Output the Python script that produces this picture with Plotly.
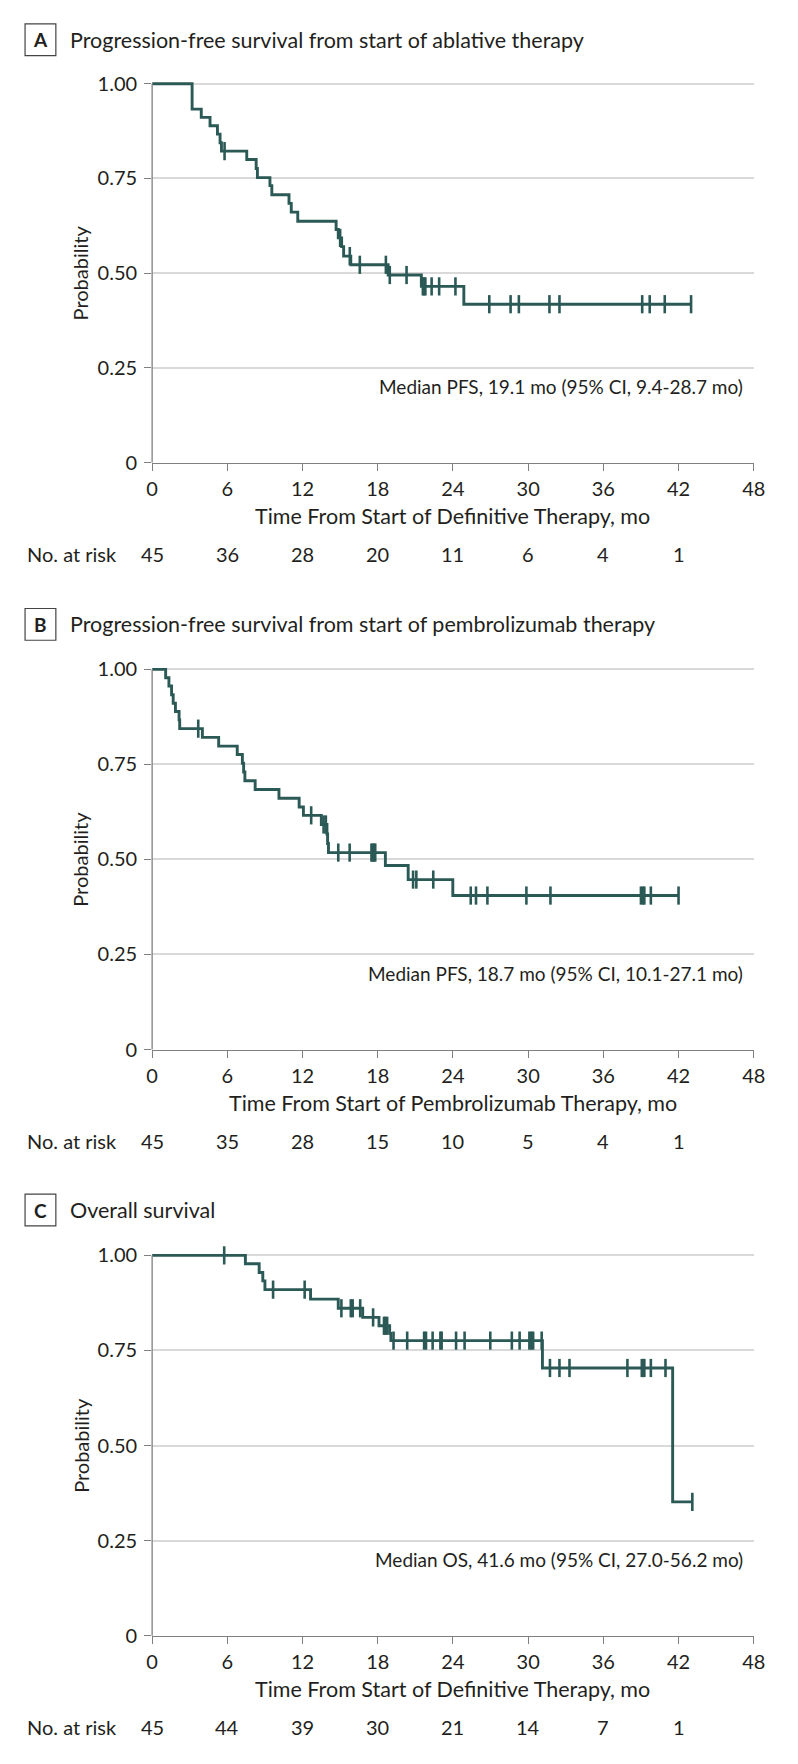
import numpy as np
import plotly.graph_objects as go

# ---------------- data ----------------
months_ticks = [0, 6, 12, 18, 24, 30, 36, 42, 48]
risk_times = [0, 6, 12, 18, 24, 30, 36, 42]

# Panel A: PFS from start of ablative therapy
a_event_t = [3.19, 3.92, 4.62, 5.21, 5.42, 5.53, 7.55, 8.30, 8.40, 9.40, 9.55, 10.92, 11.10, 11.62,
             14.68, 14.85, 15.12, 15.28, 15.85, 18.83, 21.48, 24.87]
a_event_s = [0.933, 0.911, 0.889, 0.867, 0.844, 0.822, 0.800, 0.776, 0.752, 0.731, 0.707, 0.684, 0.661, 0.637,
             0.615, 0.593, 0.570, 0.545, 0.522, 0.495, 0.465, 0.418]
a_censor_t = [5.78, 15.0, 15.77, 16.57, 18.65, 18.96, 20.3, 21.6, 21.7, 21.8, 22.3, 22.9, 24.2,
              26.9, 28.6, 29.26, 31.7, 32.5, 39.1, 39.7, 40.9, 43.0]
a_risk = [45, 36, 28, 20, 11, 6, 4, 1]

# Panel B: PFS from start of pembrolizumab therapy
b_event_t = [1.08, 1.34, 1.55, 1.68, 1.86, 2.15, 2.20, 4.01, 5.31, 6.79, 7.20, 7.30, 7.40, 8.22, 10.12,
             11.73, 12.07, 13.50, 13.95, 14.00, 14.07, 18.61, 20.43, 23.99]
b_event_s = [0.978, 0.956, 0.933, 0.911, 0.889, 0.867, 0.844, 0.821, 0.798, 0.776, 0.753, 0.730, 0.707, 0.684,
             0.661, 0.638, 0.616, 0.592, 0.567, 0.542, 0.518, 0.484, 0.447, 0.405]
b_censor_t = [3.68, 12.69, 13.68, 13.86, 14.85, 15.76, 17.5, 17.6, 17.7, 17.8, 20.82, 21.08, 22.43,
              25.42, 25.84, 26.75, 29.86, 31.78, 39.0, 39.15, 39.27, 39.79, 42.0]
b_risk = [45, 35, 28, 15, 10, 5, 4, 1]

# Panel C: overall survival
c_event_t = [7.44, 8.54, 8.83, 9.00, 12.64, 14.85, 16.80, 18.10, 18.95, 19.05, 31.14, 41.53]
c_event_s = [0.978, 0.955, 0.933, 0.910, 0.885, 0.861, 0.837, 0.815, 0.795, 0.776, 0.704, 0.352]
c_censor_t = [5.75, 9.65, 12.17, 15.1, 15.85, 16.0, 16.6, 17.63, 18.5, 18.6, 18.75, 19.26, 20.35, 21.7,
              21.85, 22.38, 23.0, 23.1, 24.25, 24.93, 26.98, 28.7, 29.32, 30.1, 30.25, 30.4, 31.08,
              31.74, 32.5, 33.3, 37.92, 39.07, 39.17, 39.27, 39.79, 40.96, 43.1]
c_risk = [45, 44, 39, 30, 21, 14, 7, 1]

panels = [
    dict(letter="A", title="Progression-free survival from start of ablative therapy",
         xtitle="Time From Start of Definitive Therapy, mo",
         note="Median PFS, 19.1 mo (95% CI, 9.4-28.7 mo)",
         et=a_event_t, es=a_event_s, ct=a_censor_t, risk=a_risk,
         title_y=38, top_px=82.3, zero_px=464.0),
    dict(letter="B", title="Progression-free survival from start of pembrolizumab therapy",
         xtitle="Time From Start of Pembrolizumab Therapy, mo",
         note="Median PFS, 18.7 mo (95% CI, 10.1-27.1 mo)",
         et=b_event_t, es=b_event_s, ct=b_censor_t, risk=b_risk,
         title_y=627, top_px=672.3, zero_px=1055.3),
    dict(letter="C", title="Overall survival",
         xtitle="Time From Start of Definitive Therapy, mo",
         note="Median OS, 41.6 mo (95% CI, 27.0-56.2 mo)",
         et=c_event_t, es=c_event_s, ct=c_censor_t, risk=c_risk,
         title_y=1217, top_px=1262.7, zero_px=1645.9),
]

# ---------------- style ----------------
W, H = 798, 1764
CURVE = "#2b5956"
AXIS = "#7f7f7f"
GRID = "#d9d9d9"
FONT = "Lato, 'Noto Sans', sans-serif"
TXT = "#231f20"
X0_PX, X48_PX = 149.5, 765.0
YTOP = 1.03


def px(x):
    return x / W


def py(y):
    return 1 - y / H


fig = go.Figure()
shapes = []
annotations = []
layout_axes = {}

for i, p in enumerate(panels):
    n = "" if i == 0 else str(i + 1)
    xa, ya = "x" + n, "y" + n
    unit = p["zero_px"] - p["top_px"]
    top_px = p["top_px"] - (YTOP - 1) * unit
    dom_y = [py(p["zero_px"]), py(top_px)]

    et = np.array(p["et"])
    es = np.array(p["es"])
    ct = np.array(p["ct"])
    tend = max(ct.max(), et.max())
    xs = np.concatenate([[0], et, [tend]])
    ys = np.concatenate([[1.0], es, [es[-1]]])
    fig.add_trace(go.Scatter(x=xs, y=ys, mode="lines", line=dict(color=CURVE, width=2.9, shape="hv"),
                             xaxis=xa, yaxis=ya, showlegend=False, hoverinfo="skip"))
    idx = np.searchsorted(et, ct, side="right")
    cy = np.where(idx == 0, 1.0, es[np.maximum(idx - 1, 0)])
    fig.add_trace(go.Scatter(x=ct, y=cy, mode="markers",
                             marker=dict(symbol="line-ns", size=13, line=dict(color=CURVE, width=2.6)),
                             xaxis=xa, yaxis=ya, showlegend=False, hoverinfo="skip", cliponaxis=False))

    layout_axes["xaxis" + n] = dict(
        domain=[px(X0_PX), px(X48_PX)], range=[0, 48], anchor=ya,
        tickvals=months_ticks, ticktext=[str(v) for v in months_ticks],
        showline=True, linecolor=AXIS, linewidth=1.3, ticks="outside", ticklen=7, tickwidth=1.3,
        tickcolor=AXIS, showgrid=False, zeroline=False, ticklabelstandoff=1,
        tickfont=dict(family=FONT, size=20, color=TXT), fixedrange=True)
    layout_axes["yaxis" + n] = dict(
        domain=dom_y, range=[0, YTOP], anchor=xa,
        tickvals=[0, 0.25, 0.5, 0.75, 1.0], ticktext=["0", "0.25", "0.50", "0.75", "1.00"],
        showline=False, ticks="outside", ticklen=7, tickwidth=1.3, tickcolor=AXIS,
        showgrid=True, gridcolor=GRID, gridwidth=1.5, zeroline=False, ticklabelstandoff=3,
        tickfont=dict(family=FONT, size=20, color=TXT), fixedrange=True)

    # y-axis line from 0 to 1
    shapes.append(dict(type="line", xref="paper", yref="paper",
                       x0=px(X0_PX), x1=px(X0_PX), y0=py(p["zero_px"]), y1=py(p["top_px"]),
                       line=dict(color=AXIS, width=1.3), layer="above"))
    # panel letter box
    ty = p["title_y"]
    shapes.append(dict(type="rect", xref="paper", yref="paper",
                       x0=px(19.5), x1=px(51), y0=py(ty + 16), y1=py(ty - 16),
                       line=dict(color="#444", width=1.2), fillcolor="white"))
    annotations.append(dict(text="<b>%s</b>" % p["letter"], xref="paper", yref="paper",
                            x=px(35.25), y=py(ty), xanchor="center", yanchor="middle", showarrow=False,
                            font=dict(family=FONT, size=19, color=TXT)))
    annotations.append(dict(text=p["title"], xref="paper", yref="paper",
                            x=px(63), y=py(ty), xanchor="left", yanchor="middle", showarrow=False,
                            font=dict(family=FONT, size=21.5, color=TXT)))
    # y-axis title
    annotations.append(dict(text="Probability", xref="paper", yref="paper", textangle=-90,
                            x=px(76), y=py((p["top_px"] + p["zero_px"]) / 2), xanchor="center",
                            yanchor="middle", showarrow=False, font=dict(family=FONT, size=20, color=TXT)))
    # x-axis title
    annotations.append(dict(text=p["xtitle"], xref="paper", yref="paper",
                            x=px((X0_PX + X48_PX) / 2), y=py(p["zero_px"] + 54), xanchor="center",
                            yanchor="middle", showarrow=False, font=dict(family=FONT, size=21.5, color=TXT)))
    # median note
    annotations.append(dict(text=p["note"], xref=xa, yref=ya, x=47.3, y=0.2, xanchor="right",
                            yanchor="middle", showarrow=False, font=dict(family=FONT, size=19, color=TXT)))
    # number at risk
    risk_y = py(p["zero_px"] + 92)
    annotations.append(dict(text="No. at risk", xref="paper", yref="paper", x=px(19), y=risk_y,
                            xanchor="left", yanchor="middle", showarrow=False,
                            font=dict(family=FONT, size=20, color=TXT)))
    for t, r in zip(risk_times, p["risk"]):
        annotations.append(dict(text=str(r), xref=xa, yref="paper", x=t, y=risk_y, xanchor="center",
                                yanchor="middle", showarrow=False, font=dict(family=FONT, size=20, color=TXT)))

fig.update_layout(width=W, height=H, margin=dict(l=0, r=0, t=0, b=0),
                  paper_bgcolor="white", plot_bgcolor="white",
                  shapes=shapes, annotations=annotations, **layout_axes)

fig.write_html("out.html", config={"displayModeBar": False},
               post_script="document.body.style.margin='0';")
